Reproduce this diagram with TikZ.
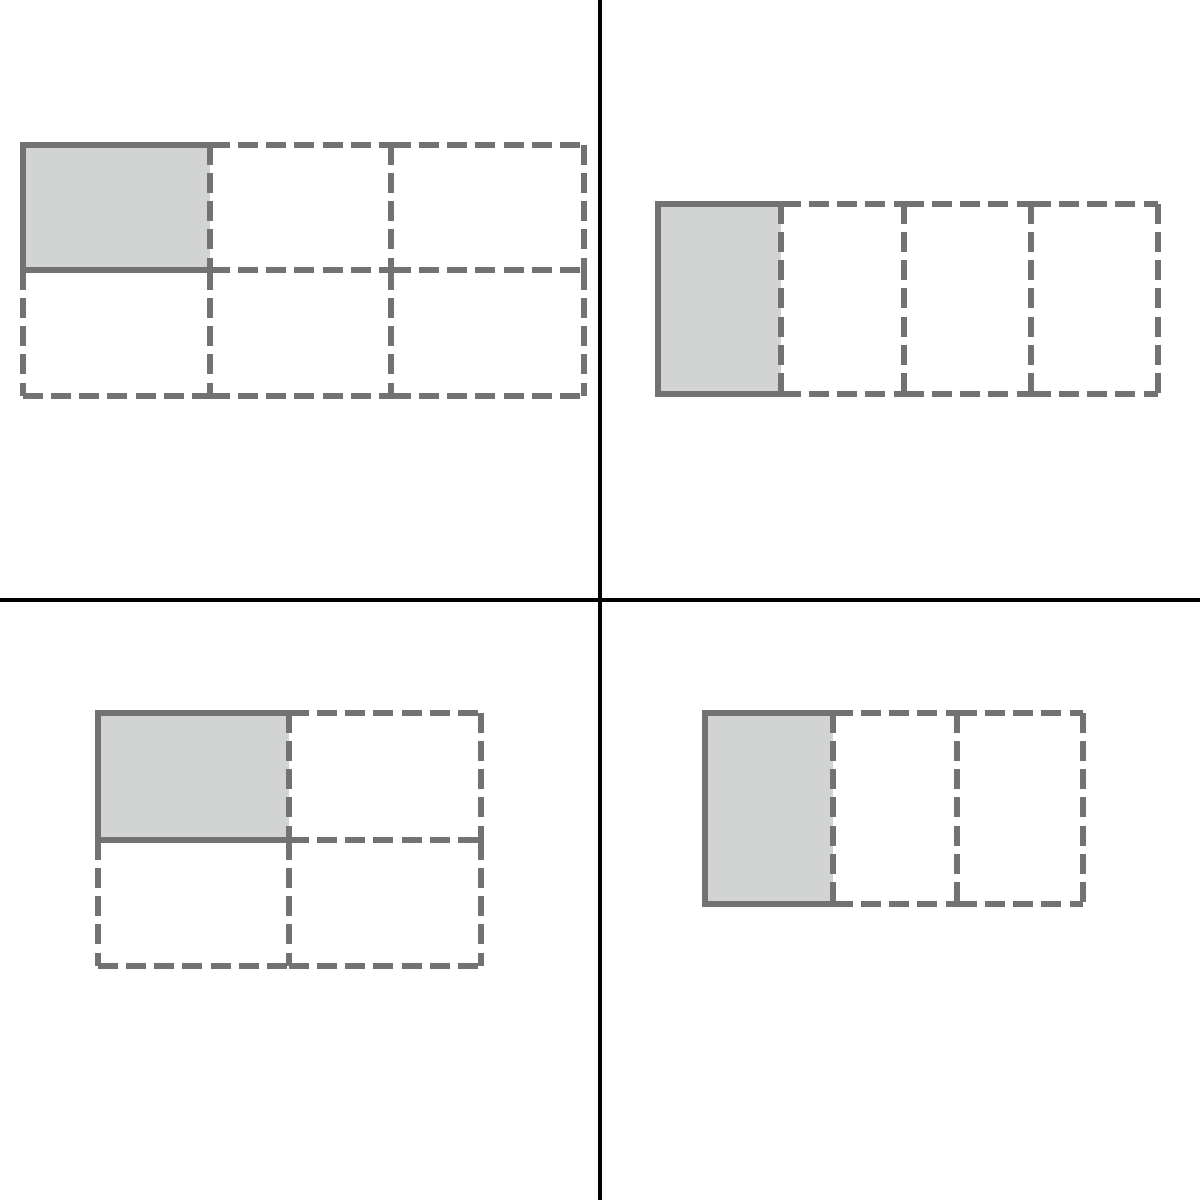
\documentclass[tikz,border=0pt]{standalone}
\definecolor{edge}{HTML}{727272}
\definecolor{cellfill}{HTML}{D2D4D4}
\tikzset{
  divider/.style={line width=0.9pt, black},
  dashcell/.style={draw=edge, line width=1.7pt, dash pattern=on 5.7pt off 2.3pt},
  solidedge/.style={draw=edge, line width=1.9pt, line cap=rect},
  shaded/.style={fill=cellfill}
}
\begin{document}
\begin{tikzpicture}[x=0.01cm,y=-0.01cm]
\useasboundingbox (0,0) rectangle (1200,1200);
% dividers
\draw[divider] (600,0) -- (600,1200);
\draw[divider] (0,600) -- (1200,600);

% ---- top-left: 3x2 grid
\fill[shaded] (23,145) rectangle (210,270);
\foreach \xa/\xb in {23/210,210/391,391/584}
  \foreach \y in {145,270,396}
    \draw[dashcell] (\xa,\y) -- (\xb,\y);
\foreach \x in {23,210,391,584}
  \foreach \ya/\yb in {145/270,270/396}
    \draw[dashcell] (\x,\ya) -- (\x,\yb);
\draw[solidedge] (210,145) -- (23,145) -- (23,270) -- (210,270);

% ---- top-right: 4x1 grid
\fill[shaded] (658,204) rectangle (781,394);
\foreach \xa/\xb in {658/781,781/904,904/1031,1031/1158}
  \foreach \y in {204,394}
    \draw[dashcell] (\xa,\y) -- (\xb,\y);
\foreach \x in {658,781,904,1031,1158}
  \draw[dashcell] (\x,204) -- (\x,394);
\draw[solidedge] (781,204) -- (658,204) -- (658,394) -- (781,394);

% ---- bottom-left: 2x2 grid
\fill[shaded] (98,713) rectangle (289,840);
\foreach \xa/\xb in {98/289,289/481}
  \foreach \y in {713,840,966}
    \draw[dashcell] (\xa,\y) -- (\xb,\y);
\foreach \x in {98,289,481}
  \foreach \ya/\yb in {713/840,840/966}
    \draw[dashcell] (\x,\ya) -- (\x,\yb);
\draw[solidedge] (289,713) -- (98,713) -- (98,840) -- (289,840);

% ---- bottom-right: 3x1 grid
\fill[shaded] (705,713) rectangle (833,904);
\foreach \xa/\xb in {705/833,833/957,957/1083}
  \foreach \y in {713,904}
    \draw[dashcell] (\xa,\y) -- (\xb,\y);
\foreach \x in {705,833,957,1083}
  \draw[dashcell] (\x,713) -- (\x,904);
\draw[solidedge] (833,713) -- (705,713) -- (705,904) -- (833,904);
\end{tikzpicture}
\end{document}
